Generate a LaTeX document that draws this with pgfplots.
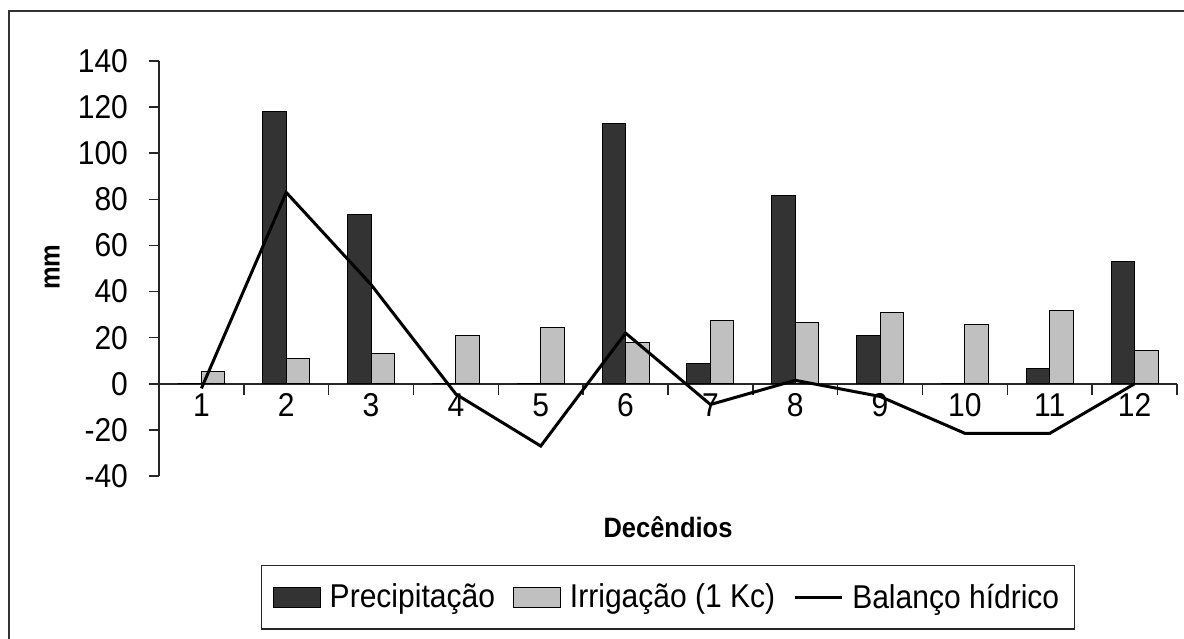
\documentclass[border=0pt]{standalone}
\usepackage{pgfplots}
\pgfplotsset{compat=1.18}
\usepackage{pgfplotstable}
\usepackage{fontspec}
\setmainfont{Liberation Sans}[FakeStretch=0.91]

% Decêndio, precipitação, irrigação (1 Kc) e balanço hídrico, em mm
\pgfplotstableread{
dec prec irr bal
1   0     5.5   -2
2   118   11     83
3   73.5  13     43
4   0     21    -4.5
5   0     24.5  -27
6   113   18     22
7   9     27.5  -9
8   81.5  26.5   1.5
9   21    31    -5.5
10  0     25.5  -21.5
11  6.5   32    -21.5
12  53    14.5   0
}\datatable

\definecolor{precip}{HTML}{333333}
\definecolor{irrig}{HTML}{C0C0C0}

\pgfplotsset{
  bar swatch/.style={legend image code/.code={\draw[##1] (0pt,-5pt) rectangle (23.5pt,5pt);}},
  line swatch/.style={legend image code/.code={\draw[##1] (0pt,0pt) -- (23.5pt,0pt);}},
}

\begin{document}
\begin{tikzpicture}[x=1pt,y=1pt]
\useasboundingbox (0,0) rectangle (592,319);
\begin{axis}[
  at={(79.5pt,81pt)}, anchor=south west,
  scale only axis, width=509pt, height=207.5pt,
  xmin=0.5, xmax=12.5, ymin=-40, ymax=140,
  axis x line=middle, axis y line=left,
  axis line style={-, line width=0.8pt, color=black!85},
  every tick/.style={black!85, line width=0.8pt},
  tick align=outside,
  xtick={1,...,12},
  minor xtick={0.5,1.5,...,12.5},
  major x tick style={draw=none},
  minor tick length=5.5pt, major tick length=5pt,
  ytick={-40,-20,...,140},
  hide obscured x ticks=false, hide obscured y ticks=false,
  /pgf/number format/assume math mode=true,
  ticklabel style={font=\fontsize{16.5}{18}\selectfont},
  yticklabel style={xshift=-7pt},
  xticklabel style={yshift=3.5pt},
  every axis x label/.style={at={(axis description cs:0.5,-0.1229)}, anchor=center,
    font=\bfseries\fontsize{14}{16}\selectfont},
  every axis y label/.style={at={(axis description cs:-0.1051,0.5036)}, anchor=center,
    rotate=90, font=\bfseries\fontsize{14}{16}\selectfont},
  xlabel={Decêndios},
  ylabel={mm},
  legend columns=3,
  legend style={at={(0.5,-0.2925)}, anchor=center, draw=black!85, line width=0.7pt,
    font=\fontsize{16.5}{18}\selectfont, inner xsep=5.5pt, inner ysep=7pt,
    /tikz/every odd column/.append style={column sep=2.5pt},
    /tikz/every even column/.append style={column sep=7pt}},
]
\addplot[ybar, bar width=11.75pt, bar shift=-5.875pt, fill=precip, draw=black,
  line width=0.5pt, bar swatch]
  table[x=dec, y=prec] {\datatable};
\addlegendentry{Precipitação}
\addplot[ybar, bar width=11.75pt, bar shift=5.875pt, fill=irrig, draw=black,
  line width=0.5pt, bar swatch]
  table[x=dec, y=irr] {\datatable};
\addlegendentry{Irrigação (1 Kc)}
\addplot[sharp plot, black, line width=1.5pt, mark=none, line swatch]
  table[x=dec, y=bal] {\datatable};
\addlegendentry{Balanço hídrico}
\end{axis}
% moldura da área do gráfico
\draw[black!80, line width=0.9pt] (4.5,313.5) rectangle (620,-20);
\end{tikzpicture}
\end{document}
